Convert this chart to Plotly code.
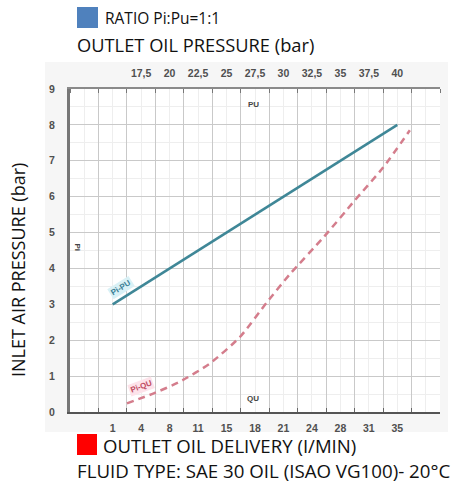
import plotly.graph_objects as go

# ---- data ----
pu_outlet_pressure = [15.0, 27.5, 40.0]          # top axis (bar)
pu_inlet_pressure = [3.0, 5.5, 8.0]              # left axis (bar)

qu_delivery = [2.7, 5.9, 9.0, 12.6, 16.2, 19.4, 22.2, 26.2, 29.9, 33.3, 36.5]   # bottom axis (l/min)
qu_inlet_pressure = [0.24, 0.52, 0.84, 1.35, 2.09, 3.05, 3.85, 4.87, 5.89, 6.81, 7.85]

top_tick_vals = [17.5, 20, 22.5, 25, 27.5, 30, 32.5, 35, 37.5, 40]
top_tick_text = ["17,5", "20", "22,5", "25", "27,5", "30", "32,5", "35", "37,5", "40"]

bottom_tick_vals = [1, 4.4, 7.8, 11.2, 14.6, 18, 21.4, 24.8, 28.2, 31.6, 35]
bottom_tick_text = ["1", "4", "8", "11", "15", "18", "21", "24", "28", "31", "35"]

y_ticks = list(range(0, 10))

# ---- layout geometry helpers ----
L, R, T, B = 70, 11, 89, 72
W, H = 451, 484
PW, PH = W - L - R, H - T - B


def px(x):
    return (x - L) / PW


def py(y):
    return (H - B - y) / PH


FONT = "Open Sans"
TICKFONT = dict(family="Liberation Sans", size=10.5, color="#505050", weight="bold")

fig = go.Figure()

fig.add_trace(go.Scatter(
    x=pu_outlet_pressure, y=pu_inlet_pressure, xaxis="x2", yaxis="y",
    mode="lines", line=dict(color="#3f8797", width=2.5), showlegend=False,
    hoverinfo="skip"))

fig.add_trace(go.Scatter(
    x=qu_delivery, y=qu_inlet_pressure, xaxis="x", yaxis="y",
    mode="lines", line=dict(color="#d47d8c", width=2.5, dash="7px,5px", shape="spline",
                            smoothing=0.6),
    showlegend=False, hoverinfo="skip"))

fig.update_layout(
    width=W, height=H,
    margin=dict(l=L, r=R, t=T, b=B, autoexpand=False),
    paper_bgcolor="white", plot_bgcolor="white",
    font=dict(family=FONT),
    showlegend=False,
    xaxis=dict(
        range=[-4.1, 40.1], tickmode="array", tickvals=bottom_tick_vals,
        ticktext=bottom_tick_text, ticks="", showgrid=False, zeroline=False,
        showline=True, linecolor="#555555", linewidth=2, automargin=False,
        tickfont=TICKFONT, ticklabelstandoff=5,
    ),
    xaxis2=dict(
        range=[11.25, 43.75], overlaying="x", side="top", anchor="y",
        tickmode="array", tickvals=top_tick_vals, ticktext=top_tick_text,
        ticks="", showgrid=False, zeroline=False, automargin=False,
        showline=True, linecolor="#8a8a8a", linewidth=2,
        tickfont=TICKFONT,
        minor=dict(tickmode="linear", tick0=11.25, dtick=2.5, ticks="inside",
                   ticklen=4, tickcolor="#777777", showgrid=False),
        ticklabelstandoff=6,
    ),
    xaxis3=dict(
        range=[0, 13], overlaying="x", side="bottom", anchor="y",
        tickmode="linear", tick0=0, dtick=1, ticks="inside", ticklen=4,
        tickcolor="#666666", showticklabels=False, showline=False, zeroline=False,
        showgrid=True, gridcolor="#c9c9c9", gridwidth=1, automargin=False,
        minor=dict(dtick=0.5, showgrid=True, gridcolor="#eeeeee", ticks=""),
    ),
    yaxis=dict(
        range=[0, 9], tickmode="array", tickvals=y_ticks, ticks="",
        showgrid=True, gridcolor="#c9c9c9", zeroline=False, automargin=False,
        showline=True, linecolor="#777777", linewidth=3,
        tickfont=TICKFONT,
        minor=dict(dtick=0.5, showgrid=True, gridcolor="#eeeeee"),
        ticklabelstandoff=10,
    ),
)

# light grey backdrop of the original picture
fig.add_shape(type="rect", xref="paper", yref="paper", layer="below",
              x0=px(45), x1=px(448), y0=py(432), y1=py(62),
              fillcolor="#f6f6f6", line=dict(width=0))
fig.add_shape(type="rect", xref="paper", yref="paper", layer="below",
              x0=0, x1=1, y0=0, y1=1, fillcolor="white", line=dict(width=0))

# legend-like squares
fig.add_shape(type="rect", xref="paper", yref="paper",
              x0=px(77), x1=px(98), y0=py(28), y1=py(7),
              fillcolor="#4f81bd", line=dict(width=0))
fig.add_shape(type="rect", xref="paper", yref="paper",
              x0=px(77), x1=px(97), y0=py(455), y1=py(434),
              fillcolor="#ff0000", line=dict(width=0))

texts = [
    ("RATIO Pi:Pu=1:1", 103, 18, 15.5),
    ("OUTLET OIL PRESSURE (bar)", 75, 45, 18.3),
    ("OUTLET OIL DELIVERY (I/MIN)", 101, 445, 18.6),
    ("FLUID TYPE: SAE 30 OIL (ISAO VG100)- 20°C", 75, 471, 18.7),
]
for t, x, y, s in texts:
    fig.add_annotation(text=t, xref="paper", yref="paper", x=px(x), y=py(y),
                       xanchor="left", yanchor="middle", showarrow=False,
                       font=dict(family=FONT, size=s, color="#111111"))

fig.add_annotation(text="INLET AIR PRESSURE (bar)", xref="paper", yref="paper",
                   x=px(18), y=py(270), textangle=-90, xanchor="center",
                   yanchor="middle", showarrow=False,
                   font=dict(family=FONT, size=18, color="#111111"))

# in-chart labels
small = dict(family="Liberation Sans", size=8, color="#444444")
fig.add_annotation(text="<b>PU</b>", xref="x3", yref="y", x=6.43, y=8.56,
                   showarrow=False, font=small)
fig.add_annotation(text="<b>QU</b>", xref="x3", yref="y", x=6.43, y=0.39,
                   showarrow=False, font=small)
fig.add_annotation(text="<b>Pi</b>", xref="x3", yref="y", x=0.25, y=4.58,
                   textangle=90, showarrow=False, font=small)
fig.add_annotation(text="<b>Pi-PU</b>", xref="x3", yref="y", x=1.8, y=3.47,
                   textangle=-32, showarrow=False, bgcolor="#d9f1f6",
                   font=dict(family="Liberation Sans", size=8, color="#3a7f95"))
fig.add_annotation(text="<b>Pi-QU</b>", xref="x3", yref="y", x=2.5, y=0.72,
                   textangle=-20, showarrow=False, bgcolor="#fde3ea",
                   font=dict(family="Liberation Sans", size=8, color="#c04a5e"))

fig.write_html("out.html", config={"displayModeBar": False},
               post_script="document.body.style.margin='0';")
